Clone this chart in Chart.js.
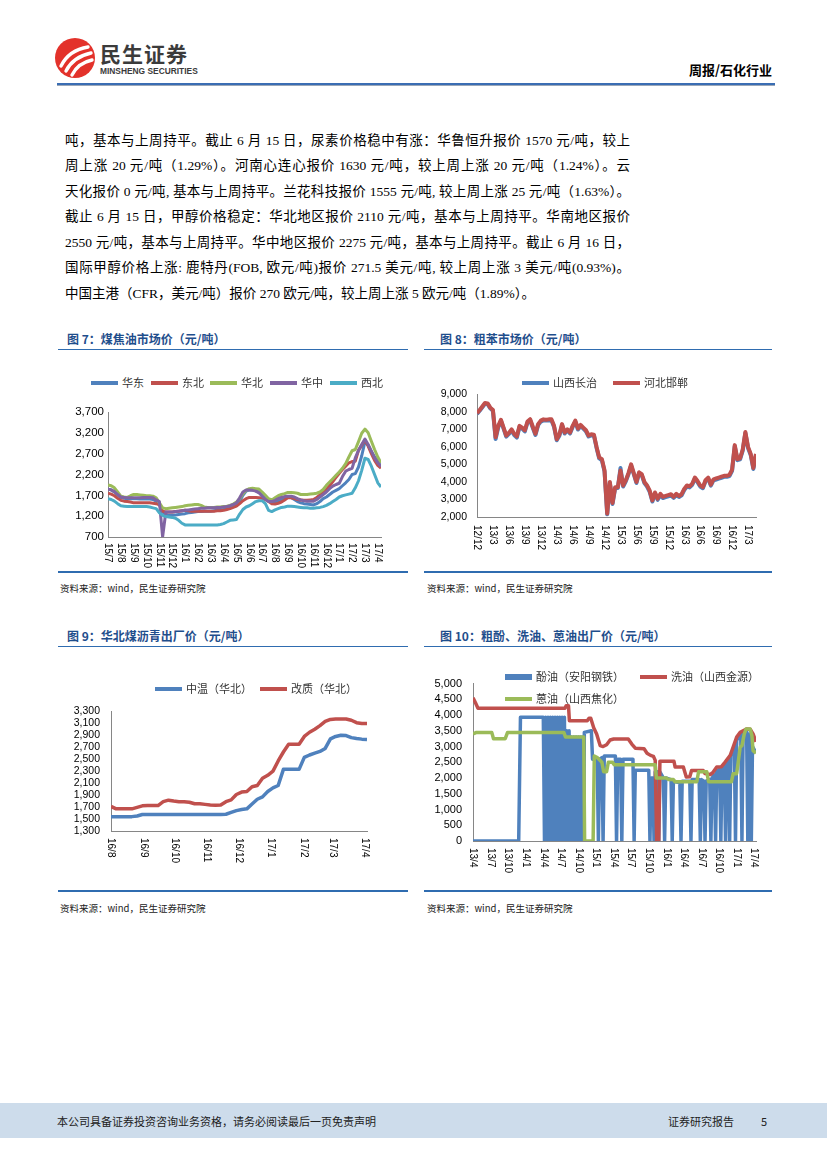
<!DOCTYPE html>
<html>
<head>
<meta charset="utf-8">
<script src="https://cdn.jsdelivr.net/npm/chart.js@4.4.0/dist/chart.umd.min.js"></script>
<style>
  body { margin: 0; background: #fff; }
  #page { position: relative; width: 827px; height: 1169px; overflow: hidden; background: #fff;
          font-family: "Liberation Serif", "Noto Sans CJK SC", serif; color: #000; }
  .a { position: absolute; white-space: nowrap; }
  .body-line { position: absolute; left: 65px; width: 565px; font-size: 13.5px; line-height: 18px;
               text-align: justify; text-align-last: justify; white-space: nowrap; }
  .fig-title { position: absolute; font-family: "Noto Sans CJK SC", sans-serif; font-weight: 700;
               font-size: 12px; line-height: 16px; color: #1F4E8C; }
  .rule { position: absolute; height: 1.5px; background: #2F6CB0; }
  .src { position: absolute; font-family: "Noto Sans CJK SC", sans-serif; font-size: 9.5px; line-height: 14px; color: #222; }
  .lg { position: absolute; font-family: "Noto Sans CJK SC", sans-serif; font-size: 11px; line-height: 14px;
        color: #333; white-space: nowrap; }
  .lg i { display: inline-block; width: 27px; height: 4px; vertical-align: middle; margin: -2px 4px 0 0; }
  canvas { position: absolute; }
</style>
</head>
<body>
<div id="page">
  <!-- header -->
  <svg class="a" style="left:54px;top:37px" width="42" height="42" viewBox="0 0 42 42">
    <circle cx="21" cy="21" r="20" fill="#E3322B"/>
    <path d="M7 29 Q15 13 34 10" stroke="#fff" stroke-width="3.4" fill="none" stroke-linecap="round"/>
    <path d="M12 34 Q19 20 37 16" stroke="#fff" stroke-width="3.4" fill="none" stroke-linecap="round"/>
    <path d="M18 38 Q24 26 38 23" stroke="#fff" stroke-width="3.4" fill="none" stroke-linecap="round"/>
  </svg>
  <div class="a" style="left:100px;top:40px;font-family:'Noto Sans CJK SC',sans-serif;font-weight:700;font-size:21px;line-height:26px;color:#3b3b3b;letter-spacing:1px">民生证券</div>
  <div class="a" style="left:100px;top:66px;font-family:'Liberation Sans',sans-serif;font-weight:700;font-size:8.4px;line-height:11px;color:#3b3b3b">MINSHENG SECURITIES</div>
  <div class="a" style="right:55px;top:61px;font-family:'Noto Sans CJK SC',sans-serif;font-weight:700;font-size:13px;line-height:18px">周报/石化行业</div>
  <div class="a" style="left:57px;top:83px;width:718px;height:2px;background:#3A6DB3"></div>
  <div class="a" style="left:57px;top:85px;width:718px;height:1px;background:#9aa7b8"></div>

  <!-- body text -->
  <div class="body-line" style="top:132px">吨，基本与上周持平。截止 6 月 15 日，尿素价格稳中有涨：华鲁恒升报价 1570 元/吨，较上</div>
  <div class="body-line" style="top:157px">周上涨 20 元/吨（1.29%）。河南心连心报价 1630 元/吨，较上周上涨 20 元/吨（1.24%）。云</div>
  <div class="body-line" style="top:183px">天化报价 0 元/吨, 基本与上周持平。兰花科技报价 1555 元/吨, 较上周上涨 25 元/吨（1.63%）。</div>
  <div class="body-line" style="top:208px">截止 6 月 15 日，甲醇价格稳定：华北地区报价 2110 元/吨，基本与上周持平。华南地区报价</div>
  <div class="body-line" style="top:234px">2550 元/吨，基本与上周持平。华中地区报价 2275 元/吨，基本与上周持平。截止 6 月 16 日，</div>
  <div class="body-line" style="top:259px">国际甲醇价格上涨: 鹿特丹(FOB, 欧元/吨)报价 271.5 美元/吨, 较上周上涨 3 美元/吨(0.93%)。</div>
  <div class="body-line" style="top:285px;text-align:left;text-align-last:left">中国主港（CFR，美元/吨）报价 270 欧元/吨，较上周上涨 5 欧元/吨（1.89%）。</div>

  <!-- figure 7 / 8 frames -->
  <div class="fig-title" style="left:67px;top:331px">图 7：煤焦油市场价（元/吨）</div>
  <div class="rule" style="left:58px;top:348.5px;width:350px"></div>
  <div class="fig-title" style="left:440px;top:331px">图 8：粗苯市场价（元/吨）</div>
  <div class="rule" style="left:424px;top:348.5px;width:348px"></div>
  <div class="rule" style="left:58px;top:571px;width:350px"></div>
  <div class="rule" style="left:424px;top:571px;width:348px"></div>
  <div class="src" style="left:60px;top:581px">资料来源：wind，民生证券研究院</div>
  <div class="src" style="left:427px;top:581px">资料来源：wind，民生证券研究院</div>

  <!-- figure 9 / 10 frames -->
  <div class="fig-title" style="left:67px;top:628px">图 9：华北煤沥青出厂价（元/吨）</div>
  <div class="rule" style="left:58px;top:645.5px;width:350px"></div>
  <div class="fig-title" style="left:440px;top:628px">图 10：粗酚、洗油、蒽油出厂价（元/吨）</div>
  <div class="rule" style="left:424px;top:645.5px;width:348px"></div>
  <div class="rule" style="left:58px;top:890px;width:350px"></div>
  <div class="rule" style="left:424px;top:890px;width:348px"></div>
  <div class="src" style="left:60px;top:901px">资料来源：wind，民生证券研究院</div>
  <div class="src" style="left:427px;top:901px">资料来源：wind，民生证券研究院</div>

  <canvas id="tarChart" width="330" height="180" style="left:60px;top:398px"></canvas>
  <canvas id="benzolChart" width="345" height="192" style="left:425px;top:378px"></canvas>
  <canvas id="pitchChart" width="330" height="192" style="left:60px;top:694px"></canvas>
  <canvas id="oilChart" width="345" height="220" style="left:425px;top:666px"></canvas>

  <!-- legends -->
  <div class="lg" style="left:91px;top:375px"><i style="background:#4F81BD"></i>华东</div>
  <div class="lg" style="left:151px;top:375px"><i style="background:#C0504D"></i>东北</div>
  <div class="lg" style="left:210px;top:375px"><i style="background:#9BBB59"></i>华北</div>
  <div class="lg" style="left:270px;top:375px"><i style="background:#8064A2"></i>华中</div>
  <div class="lg" style="left:330px;top:375px"><i style="background:#4BACC6"></i>西北</div>

  <div class="lg" style="left:522px;top:375px"><i style="background:#4F81BD"></i>山西长治</div>
  <div class="lg" style="left:613px;top:375px"><i style="background:#C0504D"></i>河北邯郸</div>

  <div class="lg" style="left:155px;top:681px"><i style="background:#4F81BD"></i>中温（华北）</div>
  <div class="lg" style="left:260px;top:681px"><i style="background:#C0504D"></i>改质（华北）</div>

  <div class="lg" style="left:505px;top:669px"><i style="background:#4F81BD;height:6px"></i>酚油（安阳钢铁）</div>
  <div class="lg" style="left:640px;top:669px"><i style="background:#C0504D"></i>洗油（山西金源）</div>
  <div class="lg" style="left:505px;top:691px"><i style="background:#9BBB59"></i>蒽油（山西焦化）</div>

  <!-- footer -->
  <div class="a" style="left:0;top:1103px;width:827px;height:35px;background:#CDDCEB"></div>
  <div class="a" style="left:57px;top:1113px;font-family:'Noto Sans CJK SC',sans-serif;font-size:11px;line-height:16px;color:#222">本公司具备证券投资咨询业务资格，请务必阅读最后一页免责声明</div>
  <div class="a" style="left:668px;top:1113px;font-family:'Noto Sans CJK SC',sans-serif;font-size:11px;line-height:16px;color:#222">证券研究报告</div>
  <div class="a" style="left:761px;top:1113px;font-family:'Noto Sans CJK SC',sans-serif;font-size:11px;line-height:16px;color:#222">5</div>
</div>

<script>
// ---------- 图7 煤焦油市场价：每月 4 个点，起点 15/7 ----------
const tarPerMonth = 4;
const tarMonths = ['15/7', '15/8', '15/9', '15/10', '15/11', '15/12', '16/1', '16/2', '16/3', '16/4', '16/5',
  '16/6', '16/7', '16/8', '16/9', '16/10', '16/11', '16/12', '17/1', '17/2', '17/3', '17/4'];
const tarEast = [
  1850, 1830, 1780, 1710, 1650, 1630, 1620, 1620, 1620, 1620, 1610, 1610, 1610, 1610, 1600, 1560,
  1500, 1300, 1240, 1220, 1220, 1230, 1240, 1250, 1260, 1280, 1290, 1300, 1310, 1310, 1320, 1320,
  1320, 1330, 1340, 1350, 1360, 1380, 1400, 1430, 1470, 1560, 1700, 1800, 1830, 1830, 1810, 1780,
  1720, 1650, 1580, 1540, 1530, 1560, 1600, 1640, 1660, 1650, 1600, 1550, 1520, 1500, 1490, 1480,
  1470, 1500, 1550, 1620, 1660, 1720, 1780, 1820, 1860, 1930, 2000, 2080, 2200, 2220, 2380, 2650,
  2990, 2900, 2750, 2620, 2520, 2470];
const tarNortheast = [
  1750, 1730, 1690, 1630, 1580, 1560, 1550, 1540, 1520, 1520, 1520, 1520, 1520, 1520, 1510, 1500,
  1470, 1320, 1300, 1300, 1300, 1310, 1320, 1330, 1340, 1330, 1320, 1320, 1320, 1320, 1320, 1320,
  1320, 1320, 1330, 1330, 1340, 1360, 1380, 1410, 1440, 1500, 1570, 1620, 1650, 1650, 1650, 1640,
  1630, 1600, 1550, 1500, 1490, 1510, 1540, 1590, 1640, 1640, 1620, 1600, 1590, 1580, 1580, 1590,
  1600, 1650, 1710, 1780, 1840, 1930, 2030, 2130, 2230, 2320, 2400, 2480, 2510, 2520, 2780, 2900,
  3030, 2880, 2700, 2540, 2420, 2350];
const tarNorth = [
  1950, 1930, 1880, 1780, 1680, 1660, 1650, 1690, 1720, 1720, 1710, 1700, 1690, 1690, 1680, 1640,
  1520, 1400, 1380, 1390, 1400, 1410, 1420, 1430, 1450, 1460, 1470, 1480, 1480, 1460, 1420, 1410,
  1410, 1410, 1420, 1420, 1430, 1440, 1460, 1490, 1540, 1620, 1740, 1820, 1860, 1870, 1860, 1850,
  1780, 1700, 1620, 1590, 1640, 1690, 1720, 1740, 1770, 1770, 1760, 1750, 1720, 1720, 1720, 1730,
  1740, 1750, 1780, 1840, 1940, 2020, 2100, 2180, 2260, 2350, 2460, 2620, 2770, 2800, 2990, 3190,
  3290, 3200, 3000, 2800, 2620, 2480];
const tarCentral = [
  1850, 1830, 1790, 1720, 1660, 1650, 1640, 1640, 1640, 1640, 1640, 1650, 1650, 1650, 1640, 1590,
  1550, 700, 1300, 1300, 1300, 1310, 1320, 1330, 1340, 1350, 1360, 1370, 1380, 1390, 1390, 1400,
  1400, 1400, 1410, 1410, 1420, 1430, 1450, 1480, 1520, 1640, 1780, 1830, 1830, 1820, 1800, 1760,
  1680, 1600, 1550, 1550, 1580, 1620, 1650, 1670, 1680, 1680, 1660, 1620, 1590, 1570, 1560, 1560,
  1560, 1600, 1660, 1720, 1780, 1860, 1920, 1960, 1990, 2150, 2280, 2320, 2350, 2600, 2780, 2920,
  3050, 2920, 2760, 2600, 2480, 2390];
const tarNorthwest = [
  1620, 1600, 1560, 1500, 1450, 1440, 1430, 1430, 1430, 1430, 1430, 1430, 1430, 1420, 1400, 1380,
  1280, 1220, 1190, 1180, 1170, 1150, 1100, 1030, 990, 990, 990, 990, 990, 990, 990, 990,
  990, 990, 990, 1000, 1020, 1060, 1100, 1110, 1120, 1250, 1360, 1420, 1450, 1500, 1550, 1570,
  1570, 1500, 1340, 1310, 1350, 1380, 1410, 1420, 1440, 1440, 1430, 1420, 1410, 1400, 1400, 1390,
  1390, 1400, 1410, 1430, 1460, 1500, 1550, 1600, 1660, 1690, 1710, 1730, 1750, 1880, 2050, 2300,
  2590, 2560, 2400, 2200, 2000, 1900];

// ---------- 图8 粗苯市场价：每月 2 个点，起点 12/12 ----------
const benzolPerMonth = 2;
const benzolMonths = ['12/12', '13/3', '13/6', '13/9', '13/12', '14/3', '14/6', '14/9', '14/12',
  '15/3', '15/6', '15/9', '15/12', '16/3', '16/6', '16/9', '16/12', '17/3'];
const benzolHandan = [
  7920, 8100, 8300, 8500, 8480, 8240, 8100, 6550, 7200, 7550,
  7100, 6650, 6800, 7000, 6750, 6600, 7200, 7100, 6950, 7450,
  7580, 7150, 6750, 7300, 7500, 7570, 7550, 7570, 7575, 7200,
  6440, 6700, 7300, 6820, 7000, 6820, 7200, 7500, 7050, 7250,
  7100, 6950, 6650, 6720, 6700, 6000, 5400, 5300, 4650, 2200,
  4000, 2800, 3700, 3700, 4650, 3800, 4100, 4500, 5000, 4500,
  4000, 4550, 4450, 4000, 3800, 3500, 2950, 3400, 3050, 3320,
  3150, 3200, 3250, 3300, 3150, 3320, 3200, 3300, 3600, 3800,
  3750, 3900, 4250, 4050, 3800, 3700, 4100, 4250, 3850, 4150,
  4200, 4250, 4300, 4350, 4350, 4400, 4700, 6100, 5300, 5350,
  5850, 6850, 6000, 5600, 4800, 5600];
const benzolChangzhi = [
  7880, 8060, 8260, 8460, 8440, 8200, 8050, 6450, 7120, 7480,
  7040, 6580, 6740, 6930, 6680, 6530, 7140, 7040, 6880, 7390,
  7520, 7090, 6680, 7240, 7440, 7510, 7500, 7510, 7520, 7140,
  6380, 6640, 7240, 6760, 6940, 6760, 7140, 7440, 6990, 7190,
  7040, 6890, 6590, 6660, 6640, 5940, 5340, 5240, 4590, 2150,
  3940, 2740, 3640, 3650, 4800, 3740, 4040, 4440, 4940, 4440,
  3940, 4490, 4390, 3940, 3740, 3430, 2880, 3330, 2980, 3250,
  3080, 3130, 3180, 3230, 3090, 3260, 3140, 3240, 3540, 3740,
  3690, 3840, 4190, 3990, 3740, 3640, 4040, 4190, 3790, 4090,
  4140, 4190, 4240, 4290, 4290, 4340, 4640, 6040, 5240, 5290,
  5790, 6790, 5940, 5540, 4740, 5540];

// ---------- 图9 华北煤沥青出厂价：自 16/8/1 起的天数 ----------
const pitchDays = [0, 5, 10, 15, 20, 25, 30, 35, 40, 45, 50, 55, 60, 65, 70, 75, 80, 85, 90, 95,
  100, 105, 110, 115, 120, 125, 130, 135, 140, 145, 150, 155, 160, 165, 170, 175, 180, 185, 190, 195,
  200, 205, 210, 215, 220, 225, 230, 235, 240, 245];
const pitchMedium = [1540, 1540, 1540, 1540, 1540, 1550, 1575, 1575, 1575, 1575, 1575, 1575, 1575, 1575,
  1575, 1575, 1575, 1575, 1575, 1575, 1575, 1575, 1580, 1610, 1640, 1660, 1670, 1750, 1830, 1870,
  1960, 2020, 2060, 2330, 2330, 2330, 2330, 2530, 2570, 2600, 2630, 2680, 2840, 2880, 2900, 2895,
  2860, 2845, 2835, 2830];
const pitchModified = [1710, 1670, 1670, 1670, 1670, 1695, 1720, 1725, 1725, 1725, 1790, 1815, 1800, 1790,
  1790, 1780, 1755, 1755, 1745, 1735, 1730, 1735, 1790, 1820, 1910, 1950, 1960, 2040, 2060, 2180,
  2230, 2300, 2470, 2620, 2750, 2750, 2750, 2880, 2950, 3000, 3060, 3130, 3165, 3170, 3170, 3170,
  3150, 3110, 3095, 3095];
const pitchMonths = ['16/8', '16/9', '16/10', '16/11', '16/12', '17/1', '17/2', '17/3', '17/4'];
const pitchMonthDays = [0, 31, 61, 92, 122, 153, 184, 212, 243];

// ---------- 图10 粗酚、洗油、蒽油出厂价：[自 13/4 起的月数, 元/吨] ----------
const oilMonths = ['13/4', '13/7', '13/10', '14/1', '14/4', '14/7', '14/10', '15/1', '15/4',
  '15/7', '15/10', '16/1', '16/4', '16/7', '16/10', '17/1', '17/4'];
const phenolOil = [[0, 0], [7.8, 0], [8.1, 3930], [12.0, 3930],
  [12.2, 0], [12.4, 3930], [12.6, 0], [12.8, 3930], [13.0, 0], [13.2, 3930], [13.4, 0], [13.6, 3930],
  [13.8, 0], [14.0, 3930], [14.2, 0], [14.4, 3930], [14.6, 0], [14.8, 3930], [15.0, 0], [15.2, 3930],
  [15.4, 0], [15.6, 3930], [15.8, 0], [16.0, 3500], [16.2, 0], [16.4, 3500], [16.6, 0], [16.8, 3300],
  [17.0, 0], [17.2, 3300], [17.4, 0], [17.6, 3300], [17.8, 0], [18.0, 3300], [18.2, 0], [18.4, 3300],
  [18.6, 0], [18.8, 3300], [18.9, 0], [19.0, 3450], [20.2, 3500], [20.4, 2600],
  [21.2, 2600], [21.4, 0], [21.6, 2600], [22.0, 2650], [22.2, 0], [22.4, 2700],
  [24.3, 2700], [24.5, 0], [24.7, 2600], [25.2, 2600], [25.4, 0], [25.6, 2600],
  [27.3, 2600], [27.5, 0], [27.7, 2250], [30.0, 2250], [30.2, 0], [30.4, 2000],
  [30.7, 2000], [30.9, 0], [31.1, 2200], [31.5, 2200], [31.7, 0], [31.9, 2200],
  [32.5, 2000], [32.7, 0], [32.9, 2000], [33.8, 1950], [34.0, 0], [34.2, 1900],
  [35.3, 1850], [35.5, 0], [35.7, 1900], [37.0, 1900], [37.2, 0], [37.4, 1950],
  [38.6, 1950], [38.8, 0], [39.0, 1950], [39.4, 1900], [39.6, 0], [39.8, 1900],
  [40.4, 1950], [40.6, 0], [40.8, 2000], [41.2, 2100], [41.4, 0], [41.6, 2200],
  [42.1, 2300], [42.3, 0], [42.5, 2350], [42.9, 2400], [43.1, 0], [43.3, 2500],
  [43.6, 2600], [43.8, 0], [44.0, 2700], [44.6, 3000], [44.8, 0], [45.0, 3200],
  [45.7, 3400], [45.9, 0], [46.1, 3400], [46.7, 3500], [46.9, 0], [47.1, 3400],
  [47.3, 3300], [47.5, 0], [47.7, 3000], [48.3, 2800]];
const washOil = [[0, 4550], [0.4, 4400], [0.85, 4220], [15.7, 4220], [15.9, 4300], [16.3, 4300],
  [16.45, 3820], [19.5, 3820], [19.8, 3900], [20.1, 3900], [20.6, 3600], [21.1, 3400], [21.7, 3030],
  [22.2, 3000], [22.8, 3060], [23.4, 3210], [24.0, 3240], [26.5, 3240], [27.1, 3080], [27.7, 2950],
  [29.2, 2930], [29.7, 2790], [30.3, 2720], [30.8, 2690], [31.1, 2560], [31.35, 0], [31.7, 0],
  [31.9, 2530], [34.3, 2530], [34.5, 2350], [35.9, 2350], [36.4, 2030], [37.0, 2040], [37.3, 2240],
  [39.3, 2240], [39.6, 2140], [40.5, 2110], [41.0, 2190], [41.6, 2350], [42.4, 2360], [43.0, 2500],
  [43.9, 2720], [44.4, 2980], [45.0, 3300], [45.6, 3450], [46.1, 3500], [46.7, 3560], [47.3, 3550],
  [47.8, 3400], [48.3, 3150]];
const anthraceneOil = [[0, 3400], [0.6, 3450], [3.2, 3450], [3.5, 3250], [5.5, 3250], [5.9, 3450],
  [15.5, 3450], [15.8, 3300], [18.9, 3300], [19.05, 0], [20.5, 0], [20.7, 2700], [21.2, 2650],
  [22.0, 2500], [22.3, 2200], [22.8, 2200], [23.1, 2500], [23.8, 2500], [24.1, 2420], [31.1, 2420],
  [31.3, 2000], [33.0, 2000], [33.4, 1950], [34.2, 1950], [34.5, 1880], [38.2, 1880], [38.5, 2200],
  [39.9, 2200], [40.2, 1880], [44.1, 1880], [44.4, 2140], [45.0, 2140], [45.3, 2560], [45.6, 2980],
  [45.9, 3030], [46.3, 3400], [46.6, 3560], [47.3, 3560], [47.6, 3350], [47.8, 2870], [48.3, 2790]];

const BLUE = '#4F81BD', RED = '#C0504D', GREEN = '#9BBB59', PURPLE = '#8064A2', CYAN = '#4BACC6';
const AXIS = '#868686';

Chart.defaults.font.family = '"Liberation Sans", Arial, sans-serif';
Chart.defaults.color = '#000';

// vertical month labels, reading top to bottom like the Excel original
const monthLabels = {
  id: 'monthLabels',
  afterDraw(chart, args, o) {
    const { ctx, chartArea } = chart;
    const x = chart.scales.x;
    ctx.save();
    ctx.font = o.size + 'px "Liberation Sans", Arial, sans-serif';
    ctx.fillStyle = '#000';
    ctx.textAlign = 'left';
    ctx.textBaseline = 'middle';
    o.labels.forEach((t, i) => {
      ctx.save();
      ctx.translate(x.getPixelForValue(o.at[i]), chartArea.bottom + o.gap);
      ctx.rotate(Math.PI / 2);
      ctx.fillText(t, 0, 0);
      ctx.restore();
    });
    ctx.restore();
  }
};

function lineChart(id, c) {
  return new Chart(document.getElementById(id), {
    type: 'line',
    data: {
      datasets: c.series.map((s, i) => ({
        label: s.label,
        data: s.points,
        borderColor: s.color,
        backgroundColor: s.color,
        borderWidth: c.lineWidth,
        borderJoinStyle: 'round',
        pointRadius: 0,
        tension: 0,
        order: c.series.length - i
      }))
    },
    options: {
      responsive: false,
      animation: false,
      events: [],
      layout: { padding: { top: c.padTop, right: c.padRight, left: 0, bottom: 0 } },
      plugins: {
        legend: { display: false },
        tooltip: { enabled: false },
        monthLabels: { labels: c.xLabels, at: c.xAt, size: 10, gap: c.labelGap }
      },
      scales: {
        x: {
          type: 'linear', min: 0, max: c.xMax,
          ticks: { display: false },
          grid: { display: false, drawTicks: false },
          border: { color: AXIS, width: 1 },
          afterFit: s => { s.height = c.xAxisHeight; }
        },
        y: {
          min: c.yMin, max: c.yMax,
          ticks: { stepSize: c.yStep, padding: c.yPad, font: { size: c.yFont }, autoSkip: false,
                   callback: v => v.toLocaleString('en-US') },
          grid: { display: false, drawTicks: false },
          border: { color: AXIS, width: 1 },
          afterFit: s => { s.width = c.yAxisWidth; }
        }
      }
    },
    plugins: [monthLabels]
  });
}

const byIndex = (values, perMonth) => values.map((y, i) => ({ x: i / perMonth, y }));
const byPairs = pairs => pairs.map(([x, y]) => ({ x, y }));

lineChart('tarChart', {
  series: [
    { label: '华东', color: BLUE, points: byIndex(tarEast, tarPerMonth) },
    { label: '东北', color: RED, points: byIndex(tarNortheast, tarPerMonth) },
    { label: '华北', color: GREEN, points: byIndex(tarNorth, tarPerMonth) },
    { label: '华中', color: PURPLE, points: byIndex(tarCentral, tarPerMonth) },
    { label: '西北', color: CYAN, points: byIndex(tarNorthwest, tarPerMonth) }
  ],
  lineWidth: 3, xMax: (tarEast.length - 1) / tarPerMonth,
  xLabels: tarMonths, xAt: tarMonths.map((_, i) => i), labelGap: 6,
  yMin: 700, yMax: 3700, yStep: 500, yFont: 11.5, yPad: 4,
  yAxisWidth: 48, xAxisHeight: 41, padTop: 14, padRight: 9
});

lineChart('benzolChart', {
  series: [
    { label: '山西长治', color: BLUE, points: byIndex(benzolChangzhi, benzolPerMonth) },
    { label: '河北邯郸', color: RED, points: byIndex(benzolHandan, benzolPerMonth) }
  ],
  lineWidth: 4, xMax: (benzolHandan.length - 1) / benzolPerMonth,
  xLabels: benzolMonths, xAt: benzolMonths.map((_, i) => i * 3), labelGap: 8,
  yMin: 2000, yMax: 9000, yStep: 1000, yFont: 10.5, yPad: 10,
  yAxisWidth: 52, xAxisHeight: 53, padTop: 15, padRight: 14
});

lineChart('pitchChart', {
  series: [
    { label: '中温（华北）', color: BLUE, points: pitchDays.map((d, i) => ({ x: d, y: pitchMedium[i] })) },
    { label: '改质（华北）', color: RED, points: pitchDays.map((d, i) => ({ x: d, y: pitchModified[i] })) }
  ],
  lineWidth: 3.5, xMax: pitchDays[pitchDays.length - 1],
  xLabels: pitchMonths, xAt: pitchMonthDays, labelGap: 7,
  yMin: 1300, yMax: 3300, yStep: 200, yFont: 10.5, yPad: 11,
  yAxisWidth: 51, xAxisHeight: 55, padTop: 15, padRight: 23
});

lineChart('oilChart', {
  series: [
    { label: '酚油（安阳钢铁）', color: BLUE, points: byPairs(phenolOil) },
    { label: '洗油（山西金源）', color: RED, points: byPairs(washOil) },
    { label: '蒽油（山西焦化）', color: GREEN, points: byPairs(anthraceneOil) }
  ],
  lineWidth: 3.5, xMax: 48.3,
  xLabels: oilMonths, xAt: oilMonths.map((_, i) => i * 3), labelGap: 7,
  yMin: 0, yMax: 5000, yStep: 500, yFont: 11, yPad: 11,
  yAxisWidth: 48, xAxisHeight: 45, padTop: 17, padRight: 14
});
</script>
</body>
</html>
